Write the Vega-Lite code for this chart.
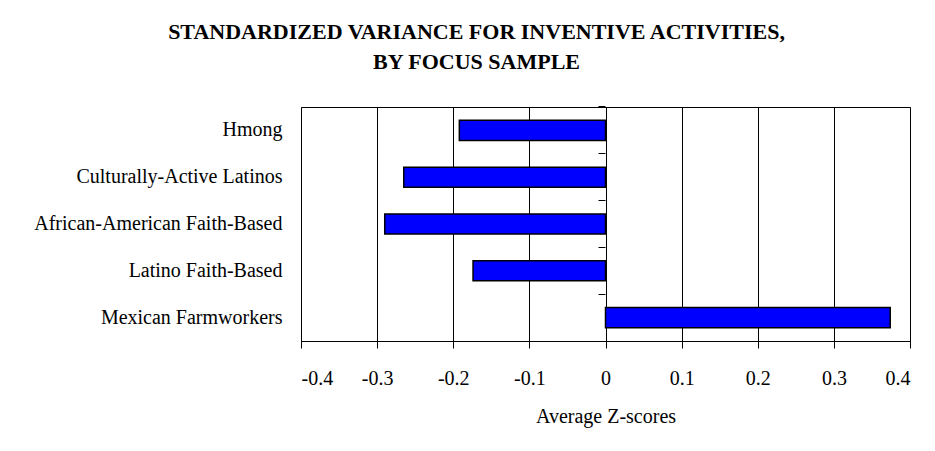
{
  "$schema": "https://vega.github.io/schema/vega-lite/v6.json",
  "autosize": "none",
  "width": 609,
  "height": 234,
  "padding": {"left": 301, "top": 107, "right": 25, "bottom": 110},
  "background": "white",
  "title": {
    "text": ["STANDARDIZED VARIANCE FOR INVENTIVE ACTIVITIES,", "BY FOCUS SAMPLE"],
    "font": "Liberation Serif",
    "fontSize": 22,
    "fontWeight": "bold",
    "color": "black",
    "lineHeight": 30,
    "anchor": "middle",
    "frame": "group",
    "baseline": "alphabetic",
    "dx": -129,
    "offset": 15
  },
  "data": {
    "values": [
      {"group": "Hmong", "z": -0.192},
      {"group": "Culturally-Active Latinos", "z": -0.265},
      {"group": "African-American Faith-Based", "z": -0.29},
      {"group": "Latino Faith-Based", "z": -0.174},
      {"group": "Mexican Farmworkers", "z": 0.374}
    ]
  },
  "layer": [
    {
      "mark": {"type": "bar", "color": "#0000FF", "stroke": "black", "strokeWidth": 1.5},
      "encoding": {
        "y": {
          "field": "group",
          "type": "nominal",
          "sort": null,
          "scale": {"paddingInner": 0.57, "paddingOuter": 0.285},
          "axis": {
            "title": null,
            "domain": false,
            "ticks": false,
            "tickSize": 0,
            "labelPadding": 19,
            "labelLimit": 0,
            "labelFont": "Liberation Serif",
            "labelFontSize": 20,
            "labelColor": "black",
            "grid": false
          }
        },
        "x": {
          "field": "z",
          "type": "quantitative",
          "scale": {"domain": [-0.4, 0.4], "nice": false, "zero": false},
          "axis": {
            "title": "Average Z-scores",
            "values": [-0.4, -0.3, -0.2, -0.1, 0, 0.1, 0.2, 0.3, 0.4],
            "format": "~g",
            "labelExpr": "replace(datum.label, '\u2212', '-')",
            "grid": true,
            "gridColor": "black",
            "gridOpacity": 1,
            "gridWidth": 1,
            "domainColor": "black",
            "domainWidth": 1,
            "tickColor": "black",
            "tickSize": 7,
            "tickWidth": 1,
            "labelPadding": 20,
            "labelFont": "Liberation Serif",
            "labelFontSize": 20,
            "labelColor": "black",
            "titleFont": "Liberation Serif",
            "titleFontSize": 20,
            "titleFontWeight": "normal",
            "titleColor": "black",
            "titlePadding": 18
          }
        }
      }
    },
    {
      "mark": {"type": "bar", "opacity": 0},
      "encoding": {
        "y": {
          "field": "group",
          "type": "nominal",
          "sort": null,
          "axis": {
            "orient": "left",
            "offset": -304,
            "title": null,
            "labels": false,
            "domain": false,
            "ticks": true,
            "tickSize": 7,
            "tickColor": "black",
            "tickWidth": 1,
            "bandPosition": -0.663,
            "grid": false
          }
        },
        "x": {"field": "z", "type": "quantitative"}
      }
    }
  ],
  "resolve": {"axis": {"y": "independent"}},
  "config": {
    "view": {"stroke": "black", "strokeWidth": 1}
  }
}
